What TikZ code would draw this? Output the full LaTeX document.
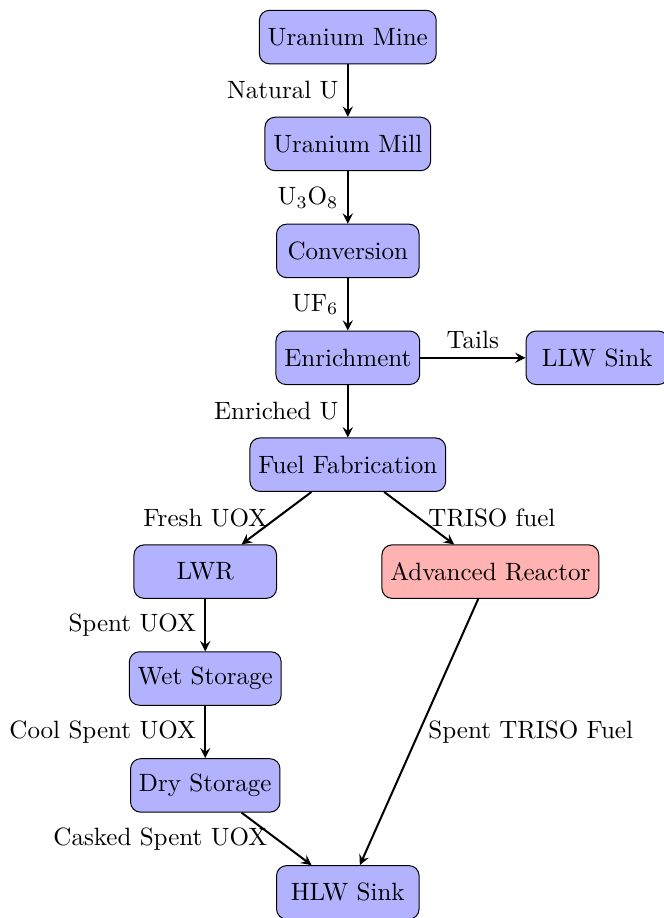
\documentclass[tikz,border=0pt]{standalone}
\usetikzlibrary{arrows}
\begin{document}
\begin{tikzpicture}[
  proc/.style={draw, rounded corners, fill=blue!30, minimum width=2cm, minimum height=0.75cm},
  adv/.style={proc, fill=red!30},
  flow/.style={->, >=stealth, thick}
]
\useasboundingbox (-4.88,0.52) rectangle (4.43,-12.36);
\node[proc] (mine) at (0,0) {Uranium Mine};
\node[proc] (mill) at (0,-1.5) {Uranium Mill};
\node[proc] (conv) at (0,-3) {Conversion};
\node[proc] (enr) at (0,-4.5) {Enrichment};
\node[proc] (llw) at (3.5,-4.5) {LLW Sink};
\node[proc] (fab) at (0,-6) {Fuel Fabrication};
\node[proc] (lwr) at (-2,-7.5) {LWR};
\node[adv] (ar) at (2,-7.5) {Advanced Reactor};
\node[proc] (wet) at (-2,-9) {Wet Storage};
\node[proc] (dry) at (-2,-10.5) {Dry Storage};
\node[proc] (hlw) at (0,-12) {HLW Sink};
\draw[flow] (mine) -- node[left] {Natural U} (mill);
\draw[flow] (mill) -- node[left] {U$_3$O$_8$} (conv);
\draw[flow] (conv) -- node[left] {UF$_6$} (enr);
\draw[flow] (enr) -- node[above] {Tails} (llw);
\draw[flow] (enr) -- node[left] {Enriched U} (fab);
\draw[flow] (fab) -- node[left] {Fresh UOX} (lwr);
\draw[flow] (fab) -- node[right] {TRISO fuel} (ar);
\draw[flow] (lwr) -- node[left] {Spent UOX} (wet);
\draw[flow] (wet) -- node[left] {Cool Spent UOX} (dry);
\draw[flow] (dry) -- node[left] {Casked Spent UOX} (hlw);
\draw[flow] (ar) -- node[right] {Spent TRISO Fuel} (hlw);
\end{tikzpicture}
\end{document}
